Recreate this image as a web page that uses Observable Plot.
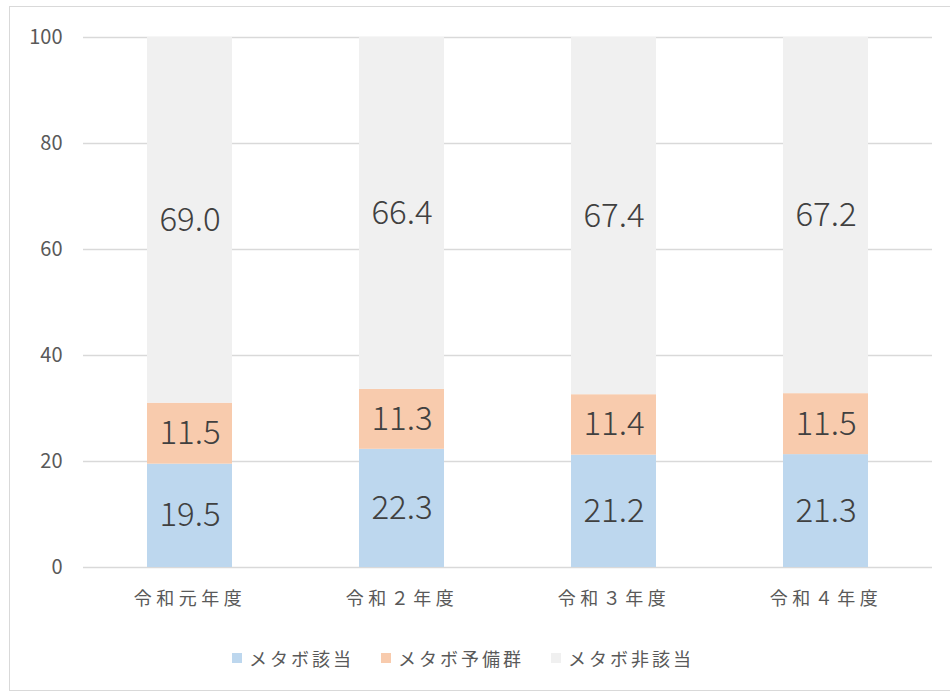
<!DOCTYPE html>
<html>
<head>
<meta charset="utf-8">
<script src="https://cdn.jsdelivr.net/npm/d3@7"></script>
<script src="https://cdn.jsdelivr.net/npm/@observablehq/plot@0.6"></script>
<style>
  html, body { margin: 0; padding: 0; background: #fff; }
  #wrap { position: relative; width: 950px; height: 695px; overflow: hidden; font-family: "Noto Sans CJK JP", "Noto Sans", sans-serif; }
  #frame { position: absolute; left: 9px; top: 6px; width: 960px; height: 685px; border: 1px solid #d9d9d9; box-sizing: border-box; }
  #chart { position: absolute; left: 0; top: 0; }
  #chart g[aria-label="x-axis tick label"] text { letter-spacing: 4.5px; }
  #legend { position: absolute; left: 232px; top: 645px; display: flex; align-items: center; font-size: 18px; letter-spacing: 3px; color: #595959; }
  .item { display: flex; align-items: center; margin-right: 27px; }
  .sw { width: 10px; height: 10px; margin-right: 7px; }
</style>
</head>
<body>
<div id="wrap">
  <div id="frame"></div>
  <div id="chart"></div>
  <div id="legend"></div>
</div>
<script>
const categories = ["令和元年度", "令和２年度", "令和３年度", "令和４年度"];
const seriesNames = ["メタボ該当", "メタボ予備群", "メタボ非該当"];
const metaboGaito = [19.5, 22.3, 21.2, 21.3];
const metaboYobigun = [11.5, 11.3, 11.4, 11.5];
const metaboHigaito = [69.0, 66.4, 67.4, 67.2];
const colors = ["#BDD7EE", "#F8CBAD", "#F0F0F0"];
const yTicks = [0, 20, 40, 60, 80, 100];

const seriesValues = [metaboGaito, metaboYobigun, metaboHigaito];
const data = [];
seriesNames.forEach((s, si) => {
  categories.forEach((c, ci) => {
    data.push({category: c, series: s, value: seriesValues[si][ci]});
  });
});

const chart = Plot.plot({
  width: 950,
  height: 630,
  marginTop: 37,
  marginBottom: 63,
  marginLeft: 83,
  marginRight: 18,
  style: {fontFamily: "'Noto Sans CJK JP', sans-serif", color: "#595959", background: "transparent"},
  x: {domain: categories, paddingInner: 0.6, paddingOuter: 0.3, label: null},
  y: {domain: [0, 100], label: null},
  color: {domain: seriesNames, range: colors},
  marks: [
    Plot.gridY(yTicks, {stroke: "#d9d9d9", strokeOpacity: 1, strokeWidth: 1.3}),
    Plot.barY(data, Plot.stackY({x: "category", y: "value", z: "series", fill: "series", order: null})),
    Plot.text(data, Plot.stackY({x: "category", y: "value", z: "series", order: null, text: d => d.value.toFixed(1), fill: "#404040", fontSize: 33, fontWeight: 300})),
    Plot.axisY(yTicks, {tickSize: 0, tickPadding: 21, fontSize: 20, tickFormat: d => String(d), label: null}),
    Plot.axisX({tickSize: 0, tickPadding: 25, fontSize: 18, label: null})
  ]
});
document.getElementById("chart").appendChild(chart);

const legend = document.getElementById("legend");
seriesNames.forEach((s, i) => {
  const item = document.createElement("div");
  item.className = "item";
  const sw = document.createElement("div");
  sw.className = "sw";
  sw.style.background = colors[i];
  const t = document.createElement("span");
  t.textContent = s;
  item.appendChild(sw);
  item.appendChild(t);
  legend.appendChild(item);
});
</script>
</body>
</html>
